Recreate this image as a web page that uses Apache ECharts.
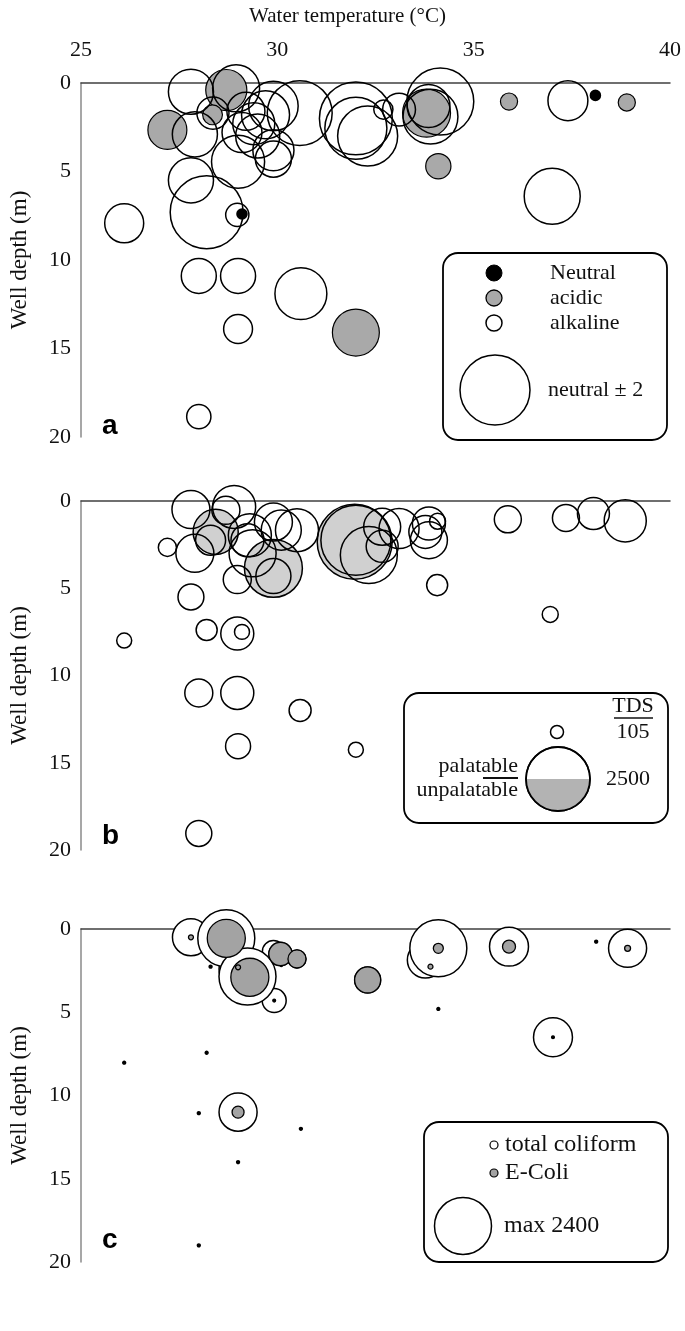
<!DOCTYPE html>
<html><head><meta charset="utf-8">
<script src="https://cdn.jsdelivr.net/npm/echarts@6/dist/echarts.min.js"></script>
<style>html,body{margin:0;padding:0;background:#fff}#c{width:685px;height:1331px}</style>
</head><body><div id="c"></div>
<script>
// ---------- data ----------
const tempRange = [25, 40];
const tempStep = 5;
const depthRange = [0, 20];
const depthStep = 5;
const panelLetters = ['a', 'b', 'c'];

// panel a: [water temperature °C, well depth m, |pH - 7|]
const phNeutral = [[29.1, 7.4, 0.03], [38.1, 0.7, 0.03]];
const phAcidic = [
  [28.7, 0.4, 0.69], [28.35, 1.8, 0.16], [27.2, 2.65, 0.62], [33.8, 1.7, 0.94],
  [34.1, 4.7, 0.26], [35.9, 1.05, 0.12], [38.9, 1.1, 0.12], [32.0, 14.1, 0.9]
];
const phAlkaline = [
  [27.8, 0.49, 0.83], [28.95, 0.3, 0.9], [28.36, 1.7, 0.42], [27.9, 2.9, 0.83],
  [27.8, 5.5, 0.83], [28.2, 7.3, 2.17], [28.98, 7.45, 0.22], [26.1, 7.93, 0.62],
  [29.0, 4.45, 1.15], [29.9, 1.3, 1.0], [30.57, 1.7, 1.72], [29.9, 3.8, 0.69],
  [29.9, 4.3, 0.53], [29.2, 1.6, 0.59], [29.4, 2.3, 0.72], [29.1, 2.8, 0.65],
  [29.5, 3.0, 0.79], [29.7, 1.8, 0.94], [32.0, 2.0, 2.17], [32.0, 2.56, 1.57],
  [32.3, 3.0, 1.47], [32.7, 1.5, 0.15], [33.1, 1.5, 0.44], [34.15, 1.05, 1.83],
  [33.9, 1.9, 1.23], [33.85, 1.3, 0.75], [37.4, 1.0, 0.65], [37.0, 6.4, 1.28],
  [28.0, 10.9, 0.5], [29.0, 10.9, 0.5], [30.6, 11.9, 1.1], [29.0, 13.9, 0.34],
  [28.0, 18.85, 0.24]
];

// panel b: [water temperature °C, well depth m, TDS mg/L]
const tdsPalatable = [
  [27.8, 0.49, 880], [28.9, 0.34, 1130], [28.69, 0.53, 480], [28.3, 2.25, 550],
  [27.2, 2.66, 200], [27.9, 3.0, 880], [27.8, 5.5, 410], [29.3, 1.96, 1130],
  [29.24, 2.25, 665], [29.37, 3.0, 1350], [29.9, 1.2, 880], [30.1, 1.67, 980],
  [30.5, 1.67, 1130], [29.9, 4.3, 750], [28.98, 4.5, 480], [32.0, 2.25, 2990],
  [32.33, 3.1, 1980], [32.67, 2.6, 625], [33.1, 1.58, 980], [32.67, 1.48, 835],
  [33.86, 1.29, 665], [33.86, 2.25, 835], [33.77, 1.77, 665], [34.08, 1.16, 156],
  [34.07, 4.82, 270], [35.87, 1.05, 445], [37.35, 0.97, 445], [38.05, 0.72, 625],
  [38.86, 1.14, 1080], [36.95, 6.5, 156], [26.1, 8.0, 137], [28.2, 7.39, 270],
  [28.98, 7.6, 665], [29.1, 7.5, 137], [28.0, 11.0, 478], [28.98, 11.0, 665],
  [30.58, 12.0, 295], [29.0, 14.05, 381], [32.0, 14.25, 137], [28.0, 19.05, 413]
];
const tdsUnpalatable = [[28.43, 1.77, 1240], [29.9, 3.86, 2050], [31.97, 2.34, 3430]];

// panel c: [water temperature °C, well depth m, count]
const totalColiform = [
  [28.3, 2.26, 6], [28.4, 1.9, 6], [28.55, 1.74, 6], [29.3, 2.0, 6], [30.1, 2.16, 6],
  [26.1, 8.03, 6], [28.2, 7.43, 6], [33.9, 1.3, 6], [33.8, 1.82, 6], [34.1, 4.8, 6],
  [38.12, 0.76, 6], [28.0, 11.06, 6], [30.6, 12.0, 6], [29.0, 14.0, 6], [28.0, 19.0, 6],
  [30.5, 1.8, 240], [29.9, 1.36, 360], [30.08, 1.5, 400], [29.92, 4.3, 425],
  [32.3, 3.06, 500], [33.77, 1.86, 960], [27.8, 0.5, 1010], [29.0, 2.4, 1070],
  [38.92, 1.16, 1070], [29.0, 11.0, 1070], [35.9, 1.06, 1120], [37.02, 6.5, 1120],
  [34.1, 1.16, 2400], [28.7, 0.56, 2400], [29.24, 2.86, 2400]
];
const eColi = [
  [28.7, 0.56, 1070], [29.3, 2.9, 1070], [30.08, 1.5, 400], [30.5, 1.8, 240],
  [32.3, 3.06, 500], [35.9, 1.06, 125], [34.1, 1.16, 74], [29.0, 11.0, 106],
  [38.92, 1.16, 26], [27.8, 0.5, 18], [29.0, 2.3, 18], [33.9, 2.26, 18],
  [29.92, 4.3, 6], [37.02, 6.5, 6]
];

// ---------- chart ----------
const FONT = 'Liberation Serif';
const grids = [
  { left: 80, width: 590, top: 83, height: 354 },
  { left: 80, width: 590, top: 501, height: 349 },
  { left: 80, width: 590, top: 929, height: 333 }
];
const sizeA = v => 70 * Math.sqrt(v / 2);
const sizeB = v => 64 * Math.sqrt(v / 2500);
const sizeC = v => 57 * Math.sqrt(v / 2400);

const xAxes = grids.map((g, i) => ({
  gridIndex: i, type: 'value', min: tempRange[0], max: tempRange[1], interval: tempStep,
  position: 'top',
  axisLine: { show: true, onZero: false, lineStyle: { color: '#404040', width: 1.5 } },
  axisTick: { show: false }, splitLine: { show: false },
  axisLabel: { show: i === 0, fontFamily: FONT, fontSize: 22, color: '#111', margin: 22 },
  name: i === 0 ? 'Water temperature (°C)' : '', nameLocation: 'middle', nameGap: 56,
  nameTextStyle: { fontFamily: FONT, fontSize: 21, color: '#111', padding: [0, 56, 0, 0] }
}));
const yAxes = grids.map((g, i) => ({
  gridIndex: i, type: 'value', min: depthRange[0], max: depthRange[1], interval: depthStep,
  inverse: true,
  axisLine: { show: true, onZero: false, lineStyle: { color: '#8a8a8a', width: 1.5 } },
  axisTick: { show: false }, splitLine: { show: false },
  axisLabel: { fontFamily: FONT, fontSize: 22, color: '#111', margin: 10 },
  name: 'Well depth (m)', nameLocation: 'middle', nameGap: 50, nameRotate: 90,
  nameTextStyle: { fontFamily: FONT, fontSize: 23, color: '#111' }
}));

function sc(idx, data, sizeFn, fill, bw) {
  return {
    type: 'scatter', xAxisIndex: idx, yAxisIndex: idx, data: data, clip: false, silent: true,
    symbolSize: v => sizeFn(v[2]),
    itemStyle: { color: fill, borderColor: '#000', borderWidth: bw, opacity: 1 },
    emphasis: { disabled: true }
  };
}
// tiny counts render as solid dots
const dotFill = base => p => (p.value[2] < 10 ? '#000' : base);

const series = [
  sc(0, phAcidic, sizeA, '#a9a9a9', 1.2),
  sc(0, phAlkaline, sizeA, 'rgba(255,255,255,0)', 1.5),
  sc(0, phNeutral, sizeA, '#000', 3),
  sc(1, tdsUnpalatable, sizeB, '#d0d0d0', 1.5),
  sc(1, tdsPalatable, sizeB, 'rgba(255,255,255,0)', 1.5),
  sc(2, totalColiform, sizeC, dotFill('#ffffff'), 1.5),
  sc(2, eColi, sizeC, dotFill('#a3a3a3'), 1.3)
];

const txt = (x, y, s, opt) => ({
  type: 'text', x: x, y: y, silent: true,
  style: Object.assign({ text: s, fontFamily: FONT, fontSize: 22, fill: '#111', textVerticalAlign: 'middle' }, opt || {})
});
const circ = (cx, cy, r, fill, lw) => ({
  type: 'circle', silent: true, shape: { cx: cx, cy: cy, r: r },
  style: { fill: fill, stroke: '#000', lineWidth: lw || 1.5 }
});
const box = (x, y, w, h) => ({
  type: 'rect', silent: true, shape: { x: x, y: y, width: w, height: h, r: 15 },
  style: { fill: '#fff', stroke: '#000', lineWidth: 1.8 }
});
const letterStyle = { fontFamily: 'Liberation Sans', fontWeight: 'bold', fontSize: 28, fill: '#000' };

const graphic = [
  // panel letters
  txt(102, 426, panelLetters[0], letterStyle),
  txt(102, 836, panelLetters[1], letterStyle),
  txt(102, 1240, panelLetters[2], letterStyle),
  // legend a
  box(443, 253, 224, 187),
  circ(494, 273, 8, '#000', 1),
  circ(494, 298, 8, '#a9a9a9', 1.3),
  circ(494, 323, 8, '#fff', 1.5),
  circ(495, 390, 35, '#fff', 1.5),
  txt(550, 273, 'Neutral'),
  txt(550, 298, 'acidic'),
  txt(550, 323, 'alkaline'),
  txt(548, 390, 'neutral ± 2'),
  // legend b
  box(404, 693, 264, 130),
  txt(633, 706, 'TDS', { textAlign: 'center' }),
  { type: 'line', silent: true, shape: { x1: 614, y1: 718, x2: 653, y2: 718 }, style: { stroke: '#111', lineWidth: 1.3 } },
  txt(633, 732, '105', { textAlign: 'center' }),
  circ(557, 732, 6.5, '#fff', 1.5),
  circ(558, 779, 32, '#fff', 1.5),
  { type: 'sector', silent: true, shape: { cx: 558, cy: 779, r: 32, r0: 0, startAngle: 0, endAngle: Math.PI, clockwise: true }, style: { fill: '#b3b3b3' } },
  circ(558, 779, 32, 'none', 1.8),
  txt(628, 779, '2500', { textAlign: 'center' }),
  txt(518, 766, 'palatable', { textAlign: 'right' }),
  { type: 'line', silent: true, shape: { x1: 483, y1: 778, x2: 518, y2: 778 }, style: { stroke: '#111', lineWidth: 1.8 } },
  txt(518, 790, 'unpalatable', { textAlign: 'right' }),
  // legend c
  box(424, 1122, 244, 140),
  circ(494, 1145, 4, '#fff', 1.2),
  circ(494, 1173, 4, '#a3a3a3', 1.2),
  circ(463, 1226, 28.5, '#fff', 1.5),
  txt(505, 1145, 'total coliform', { fontSize: 24 }),
  txt(505, 1173, 'E-Coli', { fontSize: 24 }),
  txt(504, 1226, 'max 2400', { fontSize: 24 })
];

const chart = echarts.init(document.getElementById('c'), null, { renderer: 'canvas' });
chart.setOption({
  animation: false,
  backgroundColor: '#fff',
  grid: grids,
  xAxis: xAxes,
  yAxis: yAxes,
  series: series,
  graphic: graphic
});
</script></body></html>
